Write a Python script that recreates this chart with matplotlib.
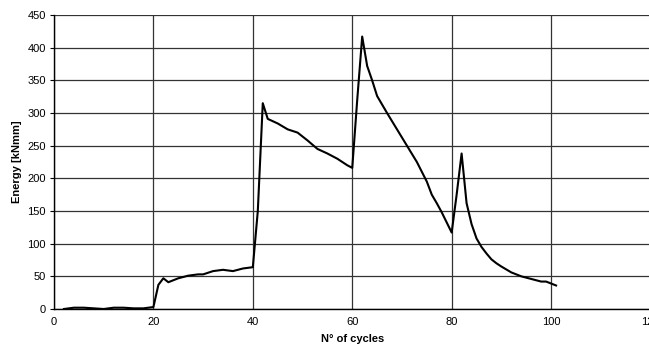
import matplotlib
matplotlib.use("Agg")
import matplotlib.pyplot as plt

cycles = [2, 4, 6, 8, 10, 12, 14, 16, 18, 20, 21, 22, 23, 25, 27, 29, 30, 32, 34, 36, 38, 40,
          41, 42, 43, 45, 47, 49, 51, 53, 55, 57, 59, 60,
          61, 62, 63, 64, 65, 67, 69, 71, 73, 75, 76, 77, 78, 80,
          81, 82, 83, 84, 85, 86, 87, 88, 89, 90, 92, 94, 96, 98, 99, 101]
energy = [0, 2, 2, 1, 0, 2, 2, 1, 1, 3, 37, 47, 41, 47, 51, 53, 53, 58, 60, 58, 62, 64,
          150, 315, 291, 284, 275, 270, 258, 245, 238, 230, 220, 216,
          320, 417, 372, 350, 326, 300, 275, 250, 225, 195, 175, 162, 148, 117,
          175, 238, 162, 130, 108, 95, 85, 76, 70, 65, 56, 50, 46, 42, 42, 36]

x_ticks = [0, 20, 40, 60, 80, 100, 120]
y_ticks = [0, 50, 100, 150, 200, 250, 300, 350, 400, 450]

plt.rcParams['font.family'] = ['Liberation Sans', 'DejaVu Sans']

W, H = 649, 352
fig = plt.figure(figsize=(W / 100, H / 100), dpi=100)
ax = fig.add_axes([54 / W, (H - 309) / H, 596.5 / W, 294 / H])

ax.plot(cycles, energy, color='black', lw=1.5, zorder=3)

ax.set_xlim(0, 120)
ax.set_ylim(0, 450)
ax.set_xticks(x_ticks)
ax.set_yticks(y_ticks)
ax.grid(True, color='#333333', lw=0.9)
ax.set_axisbelow(True)

for s in ['top', 'right']:
    ax.spines[s].set_visible(False)
ax.spines['left'].set_color('black')
ax.spines['bottom'].set_color('black')
ax.spines['left'].set_linewidth(1.0)
ax.spines['bottom'].set_linewidth(1.0)

ax.tick_params(axis='x', length=0, pad=6, labelsize=8)
ax.tick_params(axis='y', length=3, width=0.8, pad=3, labelsize=8)

ax.set_xlabel('N° of cycles', fontsize=8, fontweight='bold', labelpad=5)
ax.set_ylabel('Energy [kNmm]', fontsize=8, fontweight='bold', labelpad=4)

fig.savefig('out.png', dpi=100)
